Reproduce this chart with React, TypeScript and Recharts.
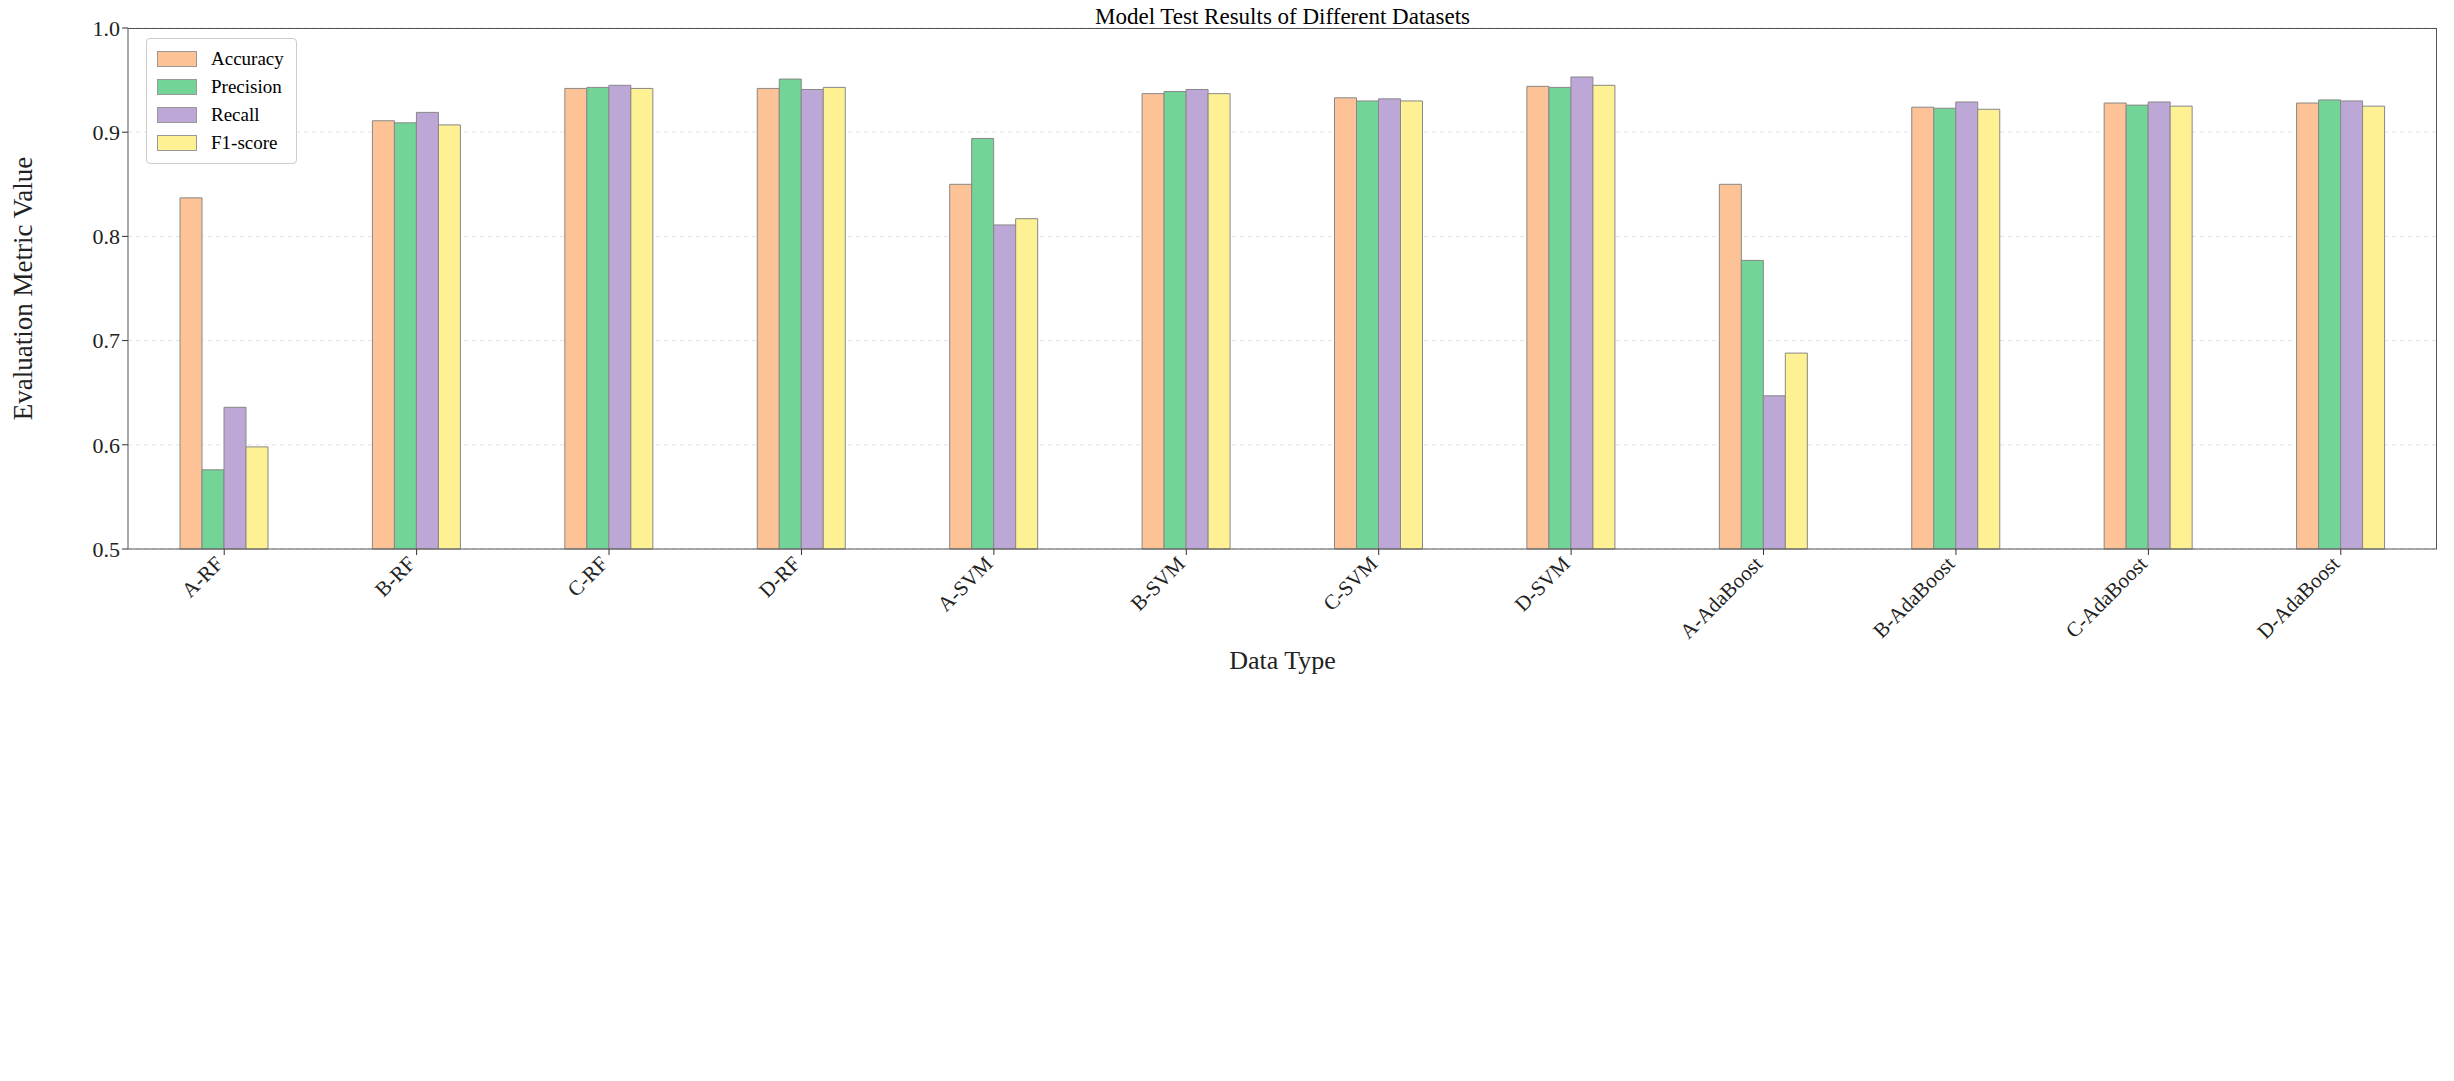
import { Bar, BarChart, CartesianGrid, XAxis, YAxis } from "recharts"

const categories = ["A-RF", "B-RF", "C-RF", "D-RF", "A-SVM", "B-SVM", "C-SVM", "D-SVM", "A-AdaBoost", "B-AdaBoost", "C-AdaBoost", "D-AdaBoost"]
const accuracy = [0.837, 0.911, 0.942, 0.942, 0.850, 0.937, 0.933, 0.944, 0.850, 0.924, 0.928, 0.928]
const precision = [0.576, 0.909, 0.943, 0.951, 0.894, 0.939, 0.930, 0.943, 0.777, 0.923, 0.926, 0.931]
const recall = [0.636, 0.919, 0.945, 0.941, 0.811, 0.941, 0.932, 0.953, 0.647, 0.929, 0.929, 0.930]
const f1 = [0.598, 0.907, 0.942, 0.943, 0.817, 0.937, 0.930, 0.945, 0.688, 0.922, 0.925, 0.925]
const yTicks = [0.5, 0.6, 0.7, 0.8, 0.9, 1.0]

const series = [
  { key: "accuracy", name: "Accuracy", color: "#fdc397" },
  { key: "precision", name: "Precision", color: "#72d497" },
  { key: "recall", name: "Recall", color: "#bda7d6" },
  { key: "f1", name: "F1-score", color: "#fdf193" },
]

const data = categories.map((c, i) => ({
  name: c,
  accuracy: accuracy[i],
  precision: precision[i],
  recall: recall[i],
  f1: f1[i],
}))

const font = "'Liberation Serif', 'Times New Roman', serif"

function RotTick({ x, y, payload }: any) {
  return (
    <text x={x} y={y + 8} textAnchor="end" fontSize={21} fill="#222" fontFamily={font}
      transform={`rotate(-45 ${x} ${y + 8})`}>
      {payload.value}
    </text>
  )
}

function LegendBox() {
  return (
    <div style={{ position: "absolute", left: 138, top: 30, border: "1px solid #ccc", borderRadius: 4, background: "white", padding: "6px 12px 6px 10px", fontFamily: font, fontSize: 19 }}>
      {series.map((s) => (
        <div key={s.key} style={{ display: "flex", alignItems: "center", height: 28 }}>
          <span style={{ width: 38, height: 14, background: s.color, border: "1px solid #999", marginRight: 14, display: "inline-block" }} />
          {s.name}
        </div>
      ))}
    </div>
  )
}

export default function App() {
  return (
    <div style={{ position: "relative", width: 2440, height: 1070, fontFamily: font }}>
      <div style={{ position: "absolute", top: -4, left: 120, width: 2309, textAlign: "center", fontSize: 23 }}>
        Model Test Results of Different Datasets
      </div>
      <BarChart width={2440} height={1070} data={data} margin={{ top: 20, right: 11, bottom: 409, left: 0 }}
        barSize={22} barGap={0}>
        <CartesianGrid vertical={false} stroke="#e4e4e4" strokeDasharray="4 4" />
        <XAxis dataKey="name" height={120} tick={<RotTick />} tickLine={{ stroke: "#333" }} axisLine={{ stroke: "#555" }}
          label={{ value: "Data Type", position: "insideBottom", offset: 0, fontSize: 26, fill: "#222", fontFamily: font }} />
        <YAxis width={120} domain={[0.5, 1.0]} ticks={yTicks} tickFormatter={(v) => v.toFixed(1)}
          tick={{ fontSize: 22, fill: "#222", fontFamily: font }} tickLine={{ stroke: "#333" }} axisLine={{ stroke: "#555" }}
          label={{ value: "Evaluation Metric Value", angle: -90, position: "insideLeft", offset: 14, fontSize: 27, fill: "#222", fontFamily: font, style: { textAnchor: "middle" } }} />
        {series.map((s) => (
          <Bar key={s.key} dataKey={s.key} name={s.name} fill={s.color} stroke="#888" strokeWidth={1} isAnimationActive={false} />
        ))}
      </BarChart>
      <div style={{ position: "absolute", left: 120, top: 20, width: 2309, height: 521, borderTop: "1px solid #555", borderRight: "1px solid #555", boxSizing: "border-box", pointerEvents: "none" }} />
      <LegendBox />
    </div>
  )
}
